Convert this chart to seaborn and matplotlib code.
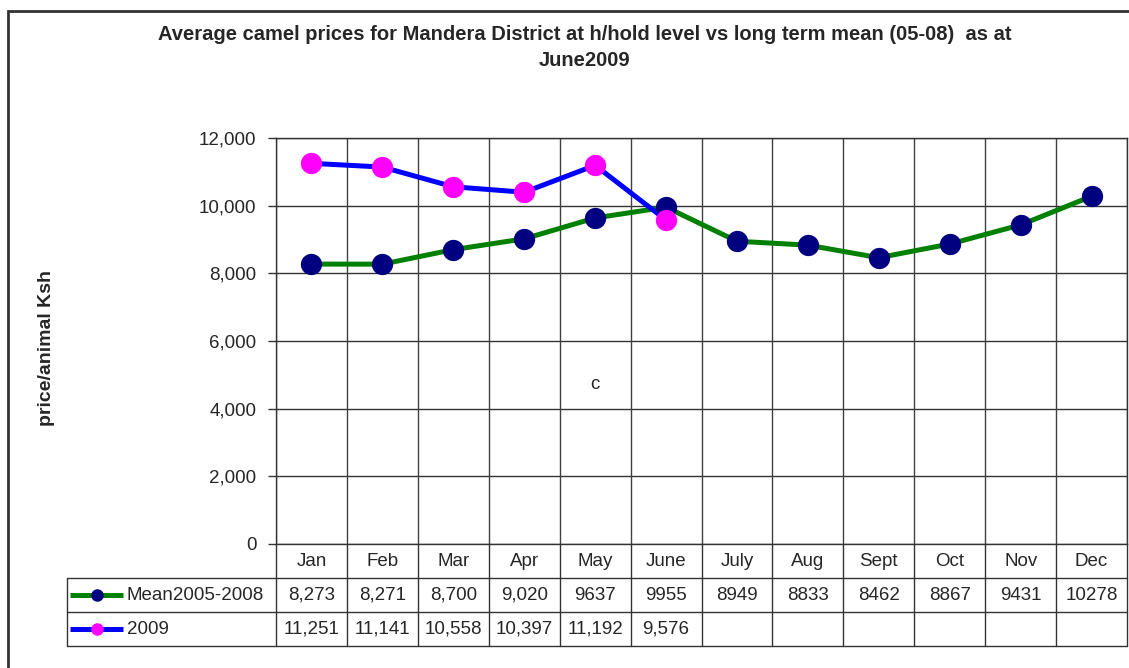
"""
Average camel prices for Mandera District (h/hold level) vs long term mean
Line chart with a data table underneath, in the old Excel style.
"""

import pandas as pd
import numpy as np
import matplotlib
matplotlib.use("Agg")
import matplotlib.pyplot as plt
from matplotlib.patches import Rectangle
from matplotlib.lines import Line2D
import seaborn as sns

# ─────────────────────────────────────────────
# DATA
# ─────────────────────────────────────────────
months = ["Jan", "Feb", "Mar", "Apr", "May", "June",
          "July", "Aug", "Sept", "Oct", "Nov", "Dec"]
mean_0508 = [8273, 8271, 8700, 9020, 9637, 9955,
             8949, 8833, 8462, 8867, 9431, 10278]
prices_2009 = [11251, 11141, 10558, 10397, 11192, 9576]

# table text as printed in the source sheet
mean_labels = ["8,273", "8,271", "8,700", "9,020", "9637", "9955",
               "8949", "8833", "8462", "8867", "9431", "10278"]
labels_2009 = ["11,251", "11,141", "10,558", "10,397", "11,192", "9,576"]

series_names = ["Mean2005-2008", "2009"]
line_colors = ["#008000", "#0000FF"]
marker_colors = ["#000080", "#FF00FF"]

yticks = [0, 2000, 4000, 6000, 8000, 10000, 12000]

title = ("Average camel prices for Mandera District at h/hold level vs long term mean (05-08)  as at\n"
         "June2009")

df_mean = pd.DataFrame({"month": months, "price": mean_0508})
df_2009 = pd.DataFrame({"month": months[:len(prices_2009)], "price": prices_2009})

# ─────────────────────────────────────────────
# FIGURE
# ─────────────────────────────────────────────
sns.set_theme(style="white")
plt.rcParams["font.family"] = ["Liberation Sans", "DejaVu Sans"]

W, H = 1129, 668
fig = plt.figure(figsize=(W / 100, H / 100), dpi=100)

def fx(px):
    return px / W

def fy(py):
    return 1 - py / H

left, right, top, bottom = 276, 1127, 138, 544
ax = fig.add_axes([fx(left), fy(bottom), fx(right - left), (bottom - top) / H])

# lines then markers, mean first so 2009 sits on top
for d, lc, mc in [(df_mean, line_colors[0], marker_colors[0]),
                  (df_2009, line_colors[1], marker_colors[1])]:
    sns.lineplot(data=d, x="month", y="price", sort=False, color=lc,
                 linewidth=3.6, ax=ax, zorder=3)
    sns.scatterplot(data=d, x="month", y="price", color=mc, s=235,
                    linewidth=0, ax=ax, zorder=4)

ax.set_xlim(-0.5, 11.5)
ax.set_ylim(0, 12000)
ax.set_yticks(yticks)
ax.set_yticklabels([f"{v:,}" for v in yticks], fontsize=13.5)
ax.set_xticks([])
ax.set_xlabel("")
ax.set_ylabel("")
ax.tick_params(axis="y", direction="out", length=6, width=1, color="#333333",
               pad=8, left=True)

ax.grid(False)
for v in yticks:
    ax.axhline(v, color="#333333", lw=1, zorder=1)
for k in range(13):
    ax.axvline(k - 0.5, color="#404040", lw=1, zorder=1)
for s in ax.spines.values():
    s.set_color("#333333")
    s.set_linewidth(1)

ax.text(4, 4700, "c", fontsize=13.5, ha="center", va="center")

# ─────────────────────────────────────────────
# DATA TABLE
# ─────────────────────────────────────────────
tab_left, tab_bottom = 67, 646
cat_w = (right - left) / 12
label_w = (left - tab_left) / cat_w
tax = fig.add_axes([fx(tab_left), fy(tab_bottom), fx(right - tab_left), (tab_bottom - bottom) / H])
x0 = -0.5 - label_w
tax.set_xlim(x0, 11.5)
tax.set_ylim(3, 0)
tax.axis("off")

lc_tab = "#333333"
for k in range(13):
    tax.plot([k - 0.5, k - 0.5], [0, 3], color=lc_tab, lw=1, clip_on=False)
tax.plot([x0, x0], [1, 3], color=lc_tab, lw=1, clip_on=False)
for yy in [1, 2, 3]:
    tax.plot([x0, 11.5], [yy, yy], color=lc_tab, lw=1, clip_on=False)

for i, m in enumerate(months):
    tax.text(i, 0.5, m, ha="center", va="center", fontsize=13.5)
for i, t in enumerate(mean_labels):
    tax.text(i, 1.5, t, ha="center", va="center", fontsize=13.5)
for i, t in enumerate(labels_2009):
    tax.text(i, 2.5, t, ha="center", va="center", fontsize=13.5)

# legend keys in the row label cells
key_x0 = x0 + 3 / cat_w
key_x1 = x0 + 56 / cat_w
for row, name, lc, mc in zip([1.5, 2.5], series_names, line_colors, marker_colors):
    tax.add_line(Line2D([key_x0, key_x1], [row, row], color=lc, lw=3.6,
                        solid_capstyle="butt", clip_on=False))
    tax.plot([(key_x0 + key_x1) / 2], [row], "o", color=mc, ms=8, mec=mc, clip_on=False)
    tax.text(key_x1 + 4 / cat_w, row, name, ha="left", va="center", fontsize=13.5)

# ─────────────────────────────────────────────
# TITLE, AXIS LABEL, FRAME
# ─────────────────────────────────────────────
fig.text(fx(585), fy(47.5), title, ha="center", va="center", fontsize=14.5,
         fontweight="bold", linespacing=1.45)
fig.text(fx(47), fy(348), "price/animal Ksh", rotation=90, ha="center", va="center",
         fontsize=14, fontweight="bold")

fig.add_artist(Rectangle((fx(8), -0.05), 1.1, fy(11) + 0.05, transform=fig.transFigure,
                         fill=False, edgecolor="#333333", lw=2))

plt.savefig("out.png", dpi=100)
plt.close()
